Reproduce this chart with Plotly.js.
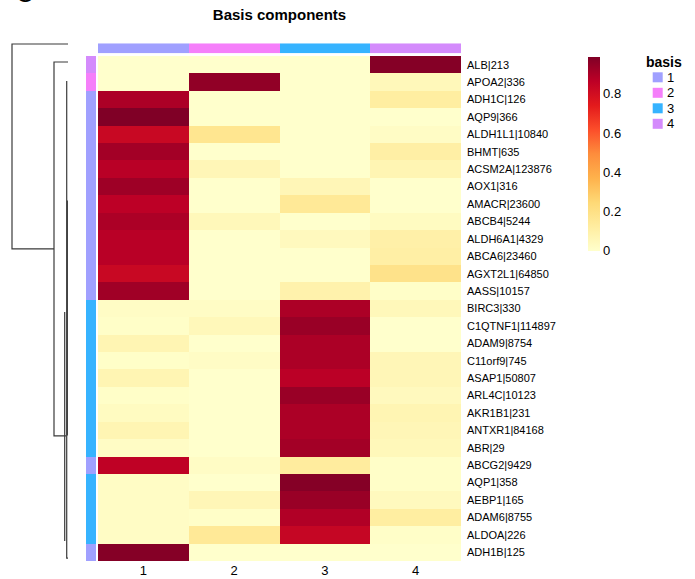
<!DOCTYPE html>
<html><head><meta charset="utf-8">
<script src="https://cdn.plot.ly/plotly-3.0.1.min.js"></script>
<style>html,body{margin:0;padding:0;background:#fff}</style>
</head><body><div id="chart" style="width:695px;height:579px"></div>
<script>
// ---- data ----
const columns = ['1', '2', '3', '4'];
const genes = ['ALB|213','APOA2|336','ADH1C|126','AQP9|366','ALDH1L1|10840','BHMT|635','ACSM2A|123876','AOX1|316','AMACR|23600','ABCB4|5244','ALDH6A1|4329','ABCA6|23460','AGXT2L1|64850','AASS|10157','BIRC3|330','C1QTNF1|114897','ADAM9|8754','C11orf9|745','ASAP1|50807','ARL4C|10123','AKR1B1|231','ANTXR1|84168','ABR|29','ABCG2|9429','AQP1|358','AEBP1|165','ADAM6|8755','ALDOA|226','ADH1B|125'];
const basis1 = [0, 0, 0.90, 0.99, 0.83, 0.92, 0.875, 0.93, 0.865, 0.90, 0.875, 0.875, 0.83, 0.925, 0.02, 0.01, 0.07, 0.01, 0.07, 0.01, 0.03, 0.07, 0.02, 0.86, 0.02, 0.02, 0.02, 0.02, 0.98];
const basis2 = [0, 0.955, 0, 0, 0.17, 0, 0.06, 0, 0, 0.05, 0, 0, 0, 0, 0.02, 0.05, 0, 0.02, 0, 0, 0, 0, 0, 0.02, 0, 0.06, 0.01, 0.15, 0];
const basis3 = [0, 0, 0, 0, 0, 0, 0, 0.06, 0.15, 0, 0.04, 0, 0, 0.09, 0.90, 0.94, 0.90, 0.90, 0.87, 0.94, 0.90, 0.90, 0.92, 0.13, 0.98, 0.94, 0.89, 0.84, 0];
const basis4 = [0.98, 0.05, 0.12, 0, 0.02, 0.11, 0.07, 0, 0, 0.03, 0.10, 0.11, 0.19, 0.01, 0.05, 0, 0, 0.06, 0.06, 0.04, 0.07, 0.06, 0.05, 0.01, 0.01, 0.04, 0.12, 0.01, 0];
const rowBasis = [4, 2, 1, 1, 1, 1, 1, 1, 1, 1, 1, 1, 1, 1, 3, 3, 3, 3, 3, 3, 3, 3, 3, 1, 3, 3, 3, 3, 1];
const colBasis = [1, 2, 3, 4];
const basisLabels = ['1', '2', '3', '4'];
const colorbarTicks = [0, 0.2, 0.4, 0.6, 0.8];
// dendrogram polylines: merge height, row position (null separates segments)
const dendroHeight = [0, 1, 1, 0.25, null, 0, 0.25, 0.25, 0.036, null, 0.023, 0.023, 0, null, 0.059, 0.059, null, 0.012, 0.012];
const dendroRow = [-1.19, -1.19, 10.58, 10.58, null, -0.155, -0.155, 21.32, 21.32, null, 0.94, 28.33, 28.33, null, 14.2, 27.35, null, 7.8, 21.3];

// ---- styles ----
const basisColors = ['#A0A0FF', '#F57FFA', '#36B3FF', '#D48BFC'];
const ylorrd = ['#FFFFCC','#FFEDA0','#FED976','#FEB24C','#FD8D3C','#FC4E2A','#E31A1C','#BD0026','#800026'];
const heatScale = ylorrd.map((c, i) => [i / (ylorrd.length - 1), c]);
const discScale = [];
basisColors.forEach((c, i) => { discScale.push([i / 4, c]); discScale.push([(i + 1) / 4, c]); });
const FONT = 'Liberation Sans, Arial, Helvetica, sans-serif';

const W = 695, H = 579;
const topPx = 56, botPx = 561, nRows = genes.length, rh = (botPx - topPx) / nRows;
const px = v => v / W, py = v => 1 - v / H;

const z = genes.map((g, i) => [basis1[i], basis2[i], basis3[i], basis4[i]]);
const zmax = Math.max(...basis1, ...basis2, ...basis3, ...basis4);

const traces = [
  {
    type: 'heatmap', x: columns, y: genes, z: z, xaxis: 'x', yaxis: 'y',
    zmin: 0, zmax: zmax, colorscale: heatScale, hoverinfo: 'x+y+z',
    colorbar: {
      x: px(587.7), xanchor: 'left', xpad: 0, y: py(56.7), yanchor: 'top', ypad: 0,
      len: 193.5 / H, lenmode: 'fraction', thickness: 12, outlinewidth: 0,
      ticks: '', tickvals: colorbarTicks, tickfont: {size: 13, family: FONT, color: '#000'}
    }
  },
  {
    type: 'heatmap', x: columns, y: ['basis'], z: [colBasis], xaxis: 'x', yaxis: 'y2',
    zmin: 0.5, zmax: 4.5, colorscale: discScale, showscale: false, hoverinfo: 'z'
  },
  {
    type: 'heatmap', x: ['basis'], y: genes, z: rowBasis.map(b => [b]), xaxis: 'x3', yaxis: 'y',
    zmin: 0.5, zmax: 4.5, colorscale: discScale, showscale: false, hoverinfo: 'y+z'
  },
  {
    type: 'scatter', mode: 'lines', x: dendroHeight, y: dendroRow, xaxis: 'x4', yaxis: 'y4',
    line: {color: '#3a3a3a', width: 1.2}, connectgaps: false, showlegend: false, hoverinfo: 'skip'
  }
];

const hidden = {showgrid: false, zeroline: false, showline: false, showticklabels: false, ticks: ''};
const annotations = [
  {text: 'C', xref: 'paper', yref: 'paper', x: px(24), y: py(-6), xanchor: 'center', yanchor: 'middle',
   showarrow: false, font: {size: 24, family: FONT, color: '#000'}},
  {text: '<b>basis</b>', xref: 'paper', yref: 'paper', x: px(663.5), y: py(62), xanchor: 'center', yanchor: 'middle',
   showarrow: false, font: {size: 14, family: FONT, color: '#000'}}
];
const shapes = [];
const legY = [77.3, 92.8, 108.3, 123.8];
basisLabels.forEach((lab, i) => {
  annotations.push({text: lab, xref: 'paper', yref: 'paper', x: px(664.5), y: py(legY[i]), xanchor: 'left', yanchor: 'middle',
    showarrow: false, font: {size: 13, family: FONT, color: '#000'}});
  shapes.push({type: 'rect', xref: 'paper', yref: 'paper', x0: px(652.7), x1: px(662.7), y0: py(legY[i] - 5), y1: py(legY[i] + 5),
    fillcolor: basisColors[i], line: {width: 0}});
});

const layout = {
  width: W, height: H, margin: {l: 0, r: 0, t: 0, b: 0}, paper_bgcolor: '#fff', plot_bgcolor: 'rgba(0,0,0,0)',
  showlegend: false,
  font: {family: FONT, color: '#000'},
  title: {text: '<b>Basis components</b>', x: px(279.5), xanchor: 'center', xref: 'paper', y: py(15), yanchor: 'middle', yref: 'paper',
    font: {size: 15, family: FONT, color: '#000'}},
  xaxis: {domain: [px(98), px(461)], type: 'category', anchor: 'y', showgrid: false, zeroline: false, showline: false, ticks: '',
    tickfont: {size: 13, family: FONT, color: '#000'}},
  yaxis: {domain: [py(botPx), py(topPx)], type: 'category', autorange: 'reversed', anchor: 'x', side: 'right', showgrid: false, zeroline: false,
    showline: false, ticks: '', ticklabelstandoff: 5, tickfont: {size: 11, family: FONT, color: '#000'}},
  yaxis2: Object.assign({domain: [py(53.3), py(43.3)], anchor: 'x', type: 'category'}, hidden),
  xaxis3: Object.assign({domain: [px(86), px(96)], anchor: 'y', type: 'category'}, hidden),
  xaxis4: Object.assign({domain: [0, px(69.5)], anchor: 'y4', range: [68 / 56, -1.5 / 56]}, hidden),
  yaxis4: Object.assign({domain: [0, 1], anchor: 'x4', range: [(H - topPx) / rh - 0.5, (0 - topPx) / rh - 0.5]}, hidden),
  annotations: annotations,
  shapes: shapes
};

Plotly.newPlot('chart', traces, layout, {displayModeBar: false, staticPlot: true});
</script>
</body></html>
